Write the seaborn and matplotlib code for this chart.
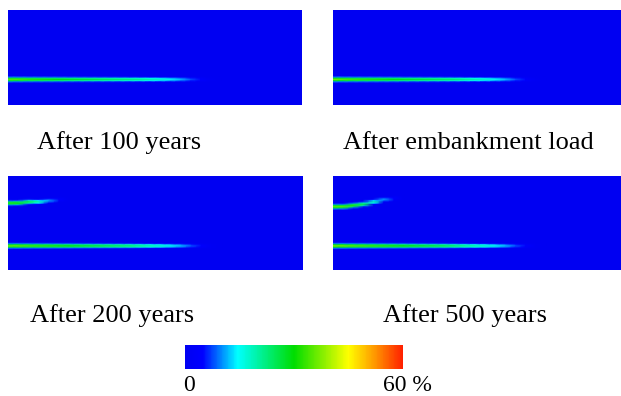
import numpy as np
import matplotlib
matplotlib.use("Agg")
import matplotlib.pyplot as plt
from matplotlib.colors import LinearSegmentedColormap, Normalize
from matplotlib.cm import ScalarMappable
import seaborn as sns

# grille du modele (nombre de noeuds)
n_rows, n_cols = 80, 30

panel_titles = ["After 100 years", "After embankment load",
                "After 200 years", "After 500 years"]

# deformation (%) le long de la couche basse, colonne 0 = bord gauche
lower_100 = [36, 35, 33, 32, 31, 30, 29, 28, 27, 26, 25, 24, 23, 22, 20, 18, 15, 12, 8, 4, 1]
lower_emb = [38, 36, 34, 33, 32, 31, 30, 29, 28, 27, 26, 25, 24, 22, 20, 18, 15, 12, 8, 4, 1]
lower_200 = [37, 36, 34, 33, 32, 31, 30, 29, 28, 27, 26, 25, 24, 22, 20, 18, 15, 12, 8, 4, 1]
lower_500 = [38, 37, 35, 34, 33, 32, 31, 30, 29, 28, 27, 26, 24, 22, 20, 18, 15, 12, 8, 4, 1]
lower_rows = [58, 58, 59, 59]

# couche haute (apparait apres 200 ans)
upper_200 = [32, 30, 26, 19, 11, 4]
upper_200_rows = [23, 23, 22, 22, 21, 20]
upper_500 = [36, 35, 32, 26, 19, 11, 4]
upper_500_rows = [26, 26, 25, 24, 22, 20, 19]

# profil vertical d'une couche (fraction du pic)
band_profile = [0.25, 0.75, 1.0, 0.75, 0.25]

strain_max = 60


def add_band(field, values, rows):
    half = len(band_profile) // 2
    for j, v in enumerate(values):
        for k, f in enumerate(band_profile):
            r = rows[j] + k - half
            field[r, j] = max(field[r, j], v * f)


def build_field(lower, lower_row, upper=None, upper_rows=None):
    field = np.zeros((n_rows, n_cols))
    add_band(field, lower, [lower_row] * len(lower))
    if upper is not None:
        add_band(field, upper, upper_rows)
    return field


fields = [
    build_field(lower_100, lower_rows[0]),
    build_field(lower_emb, lower_rows[1]),
    build_field(lower_200, lower_rows[2], upper_200, upper_200_rows),
    build_field(lower_500, lower_rows[3], upper_500, upper_500_rows),
]

cmap = LinearSegmentedColormap.from_list("strain", [
    (0.0, "#0000f2"), (0.08, "#0000ff"), (0.24, "#00ffff"),
    (0.5, "#00dd00"), (0.75, "#ffff00"), (0.87, "#ff9900"), (1.0, "#ff2000")])

sns.set_theme(style="white")
plt.rcParams["font.family"] = ["Liberation Serif", "DejaVu Serif"]
plt.rcParams["text.color"] = "black"

W, H = 621, 396
fig = plt.figure(figsize=(W / 100, H / 100), dpi=100)

# positions des panneaux en pixels (gauche, haut, droite, bas)
boxes = [(8, 10, 302, 105), (333, 10, 627, 105),
         (8, 176, 303, 270), (333, 176, 627, 270)]

for field, (l, t, r, b) in zip(fields, boxes):
    ax = fig.add_axes([l / W, 1 - b / H, (r - l) / W, (b - t) / H])
    sns.heatmap(field, cmap=cmap, vmin=0, vmax=strain_max, cbar=False,
                xticklabels=False, yticklabels=False, shading="gouraud", ax=ax)
    ax.set_xlim(0, n_cols - 1)
    ax.set_ylim(n_rows - 1, 0)
    for s in ax.spines.values():
        s.set_visible(False)

# legendes sous chaque panneau
caption_pos = [(37, 149), (343, 149), (30, 322), (383, 322)]
for txt, (x, y) in zip(panel_titles, caption_pos):
    fig.text(x / W, 1 - y / H, txt, fontsize=19, color="black",
             ha="left", va="baseline")

# barre de couleur
cax = fig.add_axes([185 / W, 1 - 369 / H, 218 / W, 24 / H])
cb = fig.colorbar(ScalarMappable(norm=Normalize(0, strain_max), cmap=cmap),
                  cax=cax, orientation="horizontal")
cb.set_ticks([])
cb.outline.set_visible(False)
fig.text(183 / W, 1 - 391 / H, "0", fontsize=17, color="black",
         ha="left", va="baseline")
fig.text(383 / W, 1 - 391 / H, "60 %", fontsize=17, color="black",
         ha="left", va="baseline")

fig.savefig("out.png", dpi=100)
